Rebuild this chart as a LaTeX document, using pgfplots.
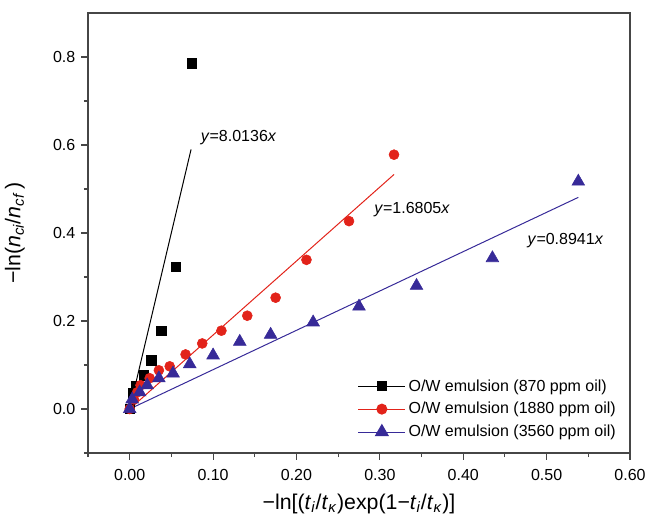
\documentclass[border=0pt]{standalone}
\usepackage{fontspec}
\setmainfont{Liberation Sans}
\usepackage{pgfplots}
\pgfplotsset{compat=1.18}
\definecolor{cred}{RGB}{226,35,26}
\definecolor{cblue}{RGB}{55,42,152}
\definecolor{axgray}{RGB}{70,70,70}
\begin{document}
\begin{tikzpicture}
\begin{axis}[
  scale only axis, width=406.5pt, height=330pt,
  xmin=-0.05, xmax=0.6, ymin=-0.1, ymax=0.9,
  xtick={0,0.1,0.2,0.3,0.4,0.5,0.6},
  ytick={0,0.2,0.4,0.6,0.8},
  minor xtick={-0.05,0.05,0.15,0.25,0.35,0.45,0.55},
  minor ytick={-0.1,0.1,0.3,0.5,0.7},
  xtick pos=bottom, ytick pos=left, tick align=outside,
  major tick length=5pt, minor tick length=3pt,
  every tick/.style={axgray, line width=0.8pt},
  axis line style={axgray, line width=1.1pt},
  /pgf/number format/assume math mode=true,
  tick label style={font=\fontsize{12}{14}\selectfont},
  xticklabel style={yshift=-4pt, /pgf/number format/.cd, fixed, fixed zerofill, precision=2},
  yticklabel style={xshift=-1pt, /pgf/number format/.cd, fixed, fixed zerofill, precision=1},
  scaled ticks=false,
  xlabel={−ln[(\textit{t}\textsubscript{\textit{i}}/\textit{t}\textsubscript{\textit{κ}})exp(1−\textit{t}\textsubscript{\textit{i}}/\textit{t}\textsubscript{\textit{κ}})]},
  ylabel={−ln(\textit{n}\textsubscript{\textit{ci}}/\textit{n}\textsubscript{\textit{cf}}\,)},
  xlabel style={font=\fontsize{16}{18}\selectfont, at={(axis description cs:0.5,-0.115)}, anchor=center},
  ylabel style={font=\fontsize{16}{18}\selectfont, at={(axis description cs:-0.135,0.5)}, anchor=center, rotate=0},
  legend image code/.code={\draw[mark repeat=2,mark phase=2] plot coordinates {(0cm,0cm) (0.62cm,0cm) (1.24cm,0cm)};},
  legend style={draw=none, fill=none, font=\fontsize{12}{14}\selectfont, at={(axis description cs:0.49,0.18)}, anchor=north west, row sep=3pt},
  legend cell align=left,
]
% fit lines
\addplot[black, line width=0.75pt, forget plot] coordinates {(0,0) (0.0736,0.590)};
\addplot[cred, line width=0.75pt, forget plot] coordinates {(0,0) (0.317,0.533)};
\addplot[cblue, line width=0.75pt, forget plot] coordinates {(0,0) (0.538,0.481)};
% data
\addplot[only marks, black, mark=square*, mark size=3.5pt, forget plot] coordinates {
(0,0) (0.004,0.036) (0.008,0.052) (0.017,0.077) (0.026,0.111) (0.038,0.178) (0.055,0.323) (0.0743,0.786)};
\addplot[only marks, cred, mark=*, mark size=3.75pt, forget plot] coordinates {
(0,0) (0.005,0.022) (0.009,0.038) (0.013,0.054) (0.024,0.070) (0.035,0.088) (0.048,0.097) (0.067,0.124) (0.087,0.149) (0.110,0.178) (0.141,0.212) (0.175,0.253) (0.212,0.339) (0.263,0.427) (0.317,0.578)};
\addplot[only marks, cblue, mark=triangle*, mark size=5.5pt, forget plot] coordinates {
(0,0) (0.003,0.022) (0.012,0.038) (0.021,0.054) (0.035,0.070) (0.052,0.081) (0.072,0.102) (0.100,0.122) (0.132,0.153) (0.169,0.169) (0.220,0.197) (0.275,0.233) (0.344,0.280) (0.435,0.343) (0.538,0.517)};
\addlegendimage{black, line width=0.75pt, mark=square*, mark size=3.5pt}
\addlegendentry{O/W emulsion (870 ppm oil)}
\addlegendimage{cred, line width=0.75pt, mark=*, mark size=3.75pt}
\addlegendentry{O/W emulsion (1880 ppm oil)}
\addlegendimage{cblue, line width=0.75pt, mark=triangle*, mark size=5.5pt}
\addlegendentry{O/W emulsion (3560 ppm oil)}
\node[anchor=west, inner sep=0pt, font=\fontsize{12}{14}\selectfont] at (axis cs:0.085,0.617) {\textit{y}=8.0136\textit{x}};
\node[anchor=west, inner sep=0pt, font=\fontsize{12}{14}\selectfont] at (axis cs:0.293,0.454) {\textit{y}=1.6805\textit{x}};
\node[anchor=west, inner sep=0pt, font=\fontsize{12}{14}\selectfont] at (axis cs:0.477,0.382) {\textit{y}=0.8941\textit{x}};
\end{axis}
\pgfresetboundingbox
\path ([shift={(-66pt,-48.75pt)}]current axis.south west) rectangle ([shift={(12pt,9.75pt)}]current axis.north east);
\end{tikzpicture}
\end{document}
